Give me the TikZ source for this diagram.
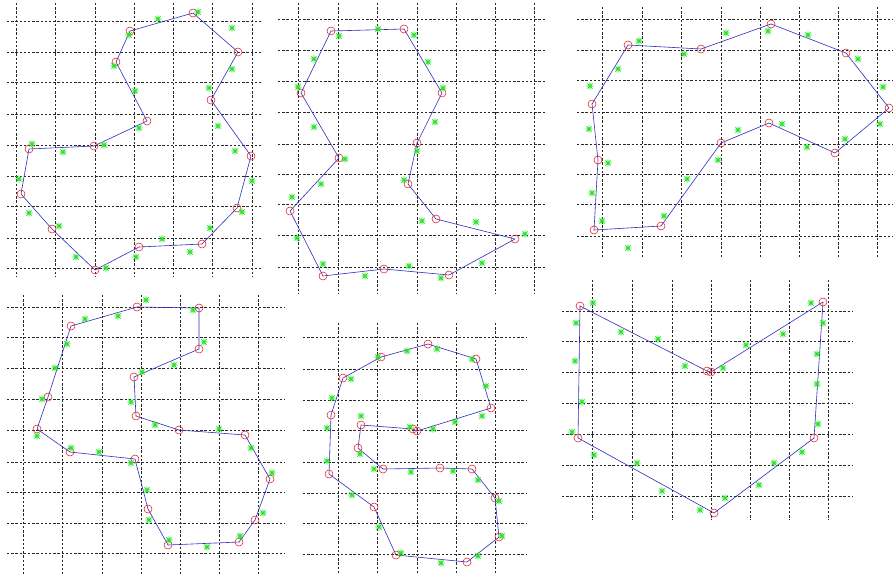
\documentclass[tikz,border=0pt]{standalone}
\usepackage{tikz}
\definecolor{gridgrey}{RGB}{40,40,40}
\definecolor{lineblue}{RGB}{45,45,190}
\definecolor{vtxred}{RGB}{230,30,30}
\definecolor{ptgreen}{RGB}{40,225,40}

\newcommand{\gridpanel}[6]{% xs, x0, x1, ys, y0, y1
  \foreach \gx in {#1} \draw[gridln] (\gx,#5) -- (\gx,#6);
  \foreach \gy in {#4} \draw[gridln] (#2,\gy) -- (#3,\gy);
}
\newcommand{\drawcontour}[2]{% prefix, vertex list
  \foreach \x/\y [count=\i] in {#2} {\coordinate (#1-\i) at (\x,\y); \xdef\npts{\i}}
  \draw[edge] (#1-1) \foreach \i in {2,...,\npts} {-- (#1-\i)} -- cycle;
  \foreach \i in {1,...,\npts} \draw[vtx] (#1-\i) circle (4);
}
\newcommand{\drawstars}[1]{%
  \foreach \x/\y in {#1} \pic at (\x,\y) {gstar};
}

\begin{document}
\begin{tikzpicture}[x=1pt,y=-1pt]
  \tikzstyle{gridln}=[gridgrey,line width=0.6pt,dash pattern=on 2.4pt off 1.8pt]
  \tikzstyle{edge}=[lineblue,line width=0.6pt,line join=round]
  \tikzstyle{vtx}=[vtxred,line width=0.55pt]
  \tikzset{pics/gstar/.style={code={
    \draw[ptgreen,line width=0.8pt] (-3.6,0)--(3.6,0) (0,-3.6)--(0,3.6) (-2.6,-2.6)--(2.6,2.6) (-2.6,2.6)--(2.6,-2.6);}}}
  \fill[white] (0,0) rectangle (893,574);
  \useasboundingbox (0,0) rectangle (893,574);

  % top left
  \gridpanel{16,55,95,134,173,212,252}{7}{263}{21,52,82,114,145,176,206,238,268}{3}{277}
  \drawcontour{a}{193/13,238/52,211/100,251/156,237/208,202/244,139/247,95/270,52/229,21/194,29/149,94/146,147/121,116/62,130/31}
  \drawstars{198/12,158/19,232/28,129/35,114/66,232/69,209/88,135/91,218/126,139/128,32/144,104/145,63/152,235/151,252/181,19/179,29/213,242/212,59/226,210/228,162/239,190/252,136/257,76/257,106/268}

  % top middle
  \gridpanel{298,338,377,417,456,495,534}{278}{545}{19,50,81,112,144,174,204,235,267}{3}{293}
  \drawcontour{b}{331/31,404/29,442/93,417/143,408/184,436/219,515/239,449/275,384/269,323/276,290/211,339/158,301/93}
  \drawstars{339/36,378/29,414/35,314/59,428/62,298/87,443/88,314/127,435/122,417/151,345/159,404/180,321/184,292/197,422/221,476/222,525/234,297/238,482/263,323/264,409/266,365/276,441/278}

  % top right
  \gridpanel{602,642,681,721,760,799,838,877}{577}{893}{19,50,80,112,144,174,204,236}{7}{257}
  \drawcontour{c}{628/45,701/49,771/24,846/53,889/108,835/153,769/123,721/143,661/226,594/230,598/160,592/104}
  \drawstars{639/41,726/33,808/35,768/31,684/54,858/59,618/69,590/86,883/87,589/129,738/130,782/124,880/124,845/139,807/147,608/163,718/160,687/179,592/193,664/216,602/221,628/248}

  % bottom left
  \gridpanel{23,62,102,141,180,219,258}{7}{285}{307,337,368,399,430,462,492,523,553}{295}{574}
  \drawcontour{d}{137/307,199/308,199/349,134/377,136/416,179/430,245/435,270/479,255/520,239/542,168/545,148/509,135/459,70/452,37/429,48/397,71/326}
  \drawstars{146/300,193/310,85/319,118/316,204/342,67/344,174/365,55/368,142/372,42/399,131/402,155/425,219/429,37/436,71/448,99/452,251/448,131/463,272/473,147/490,263/513,149/520,240/536,169/540,207/547}

  % bottom middle
  \gridpanel{338,377,417,456,495}{303}{527}{337,369,400,430,462,493,523,554}{323}{573}
  \drawcontour{e}{428/344,476/359,491/408,417/431,413/429,361/425,358/448,383/469,440/468,472/469,495/498,499/537,467/562,396/555,374/507,329/474,331/415,343/378,381/357}
  \drawstars{378/357,407/351,437/349,472/359,351/379,486/386,332/398,361/416,482/416,455/422,410/427,433/429,327/428,360/454,327/461,374/469,411/472,453/471,478/480,352/495,499/501,379/527,502/536,401/553,478/556,441/563}

  % bottom right
  \gridpanel{592,632,672,711,750,789,828}{562}{852}{311,341,372,403,434,465,496}{280}{520}
  \drawcontour{f}{580/306,707/371,711/372,823/302,814/438,714/513,578/438}
  \drawstars{593/303,576/323,621/332,658/339,575/361,685/366,723/368,746/345,783/334,811/303,823/323,817/354,817/384,582/402,818/424,572/432,802/452,594/455,637/463,774/463,759/485,662/491,725/498,700/510}
\end{tikzpicture}
\end{document}
